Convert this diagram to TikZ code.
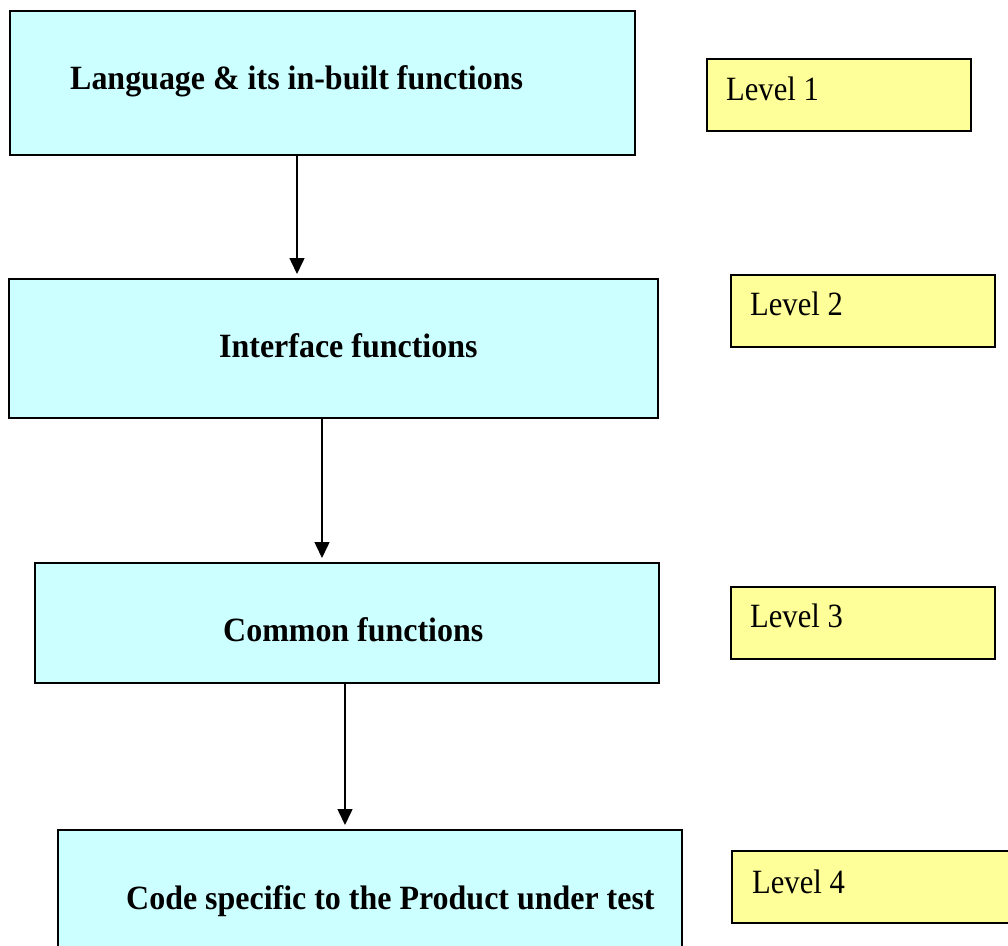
\documentclass[tikz,border=0pt]{standalone}
\usepackage{fontspec}
\setmainfont{Liberation Serif}[FakeStretch=0.9, BoldFeatures={FakeStretch=0.94}]
\usetikzlibrary{arrows.meta}
\definecolor{boxcyan}{HTML}{CCFFFF}
\definecolor{boxyellow}{HTML}{FFFF99}
\begin{document}
\begin{tikzpicture}[x=1pt,y=-1pt,
  cbox/.style={draw=black, line width=2pt, fill=boxcyan, anchor=north west, inner sep=0pt},
  ybox/.style={draw=black, line width=2pt, fill=boxyellow, anchor=north west, inner sep=0pt, minimum width=264pt, minimum height=72pt},
  btxt/.style={anchor=base west, inner sep=0pt, font=\fontsize{34}{40}\selectfont\bfseries},
  ltxt/.style={anchor=base west, inner sep=0pt, font=\fontsize{34}{40}\selectfont},
  arr/.style={line width=1.5pt, -{Triangle[length=16pt,width=15pt]}, shorten >=4pt}]
\clip (0,0) rectangle (1008,945);
\fill[white] (0,0) rectangle (1008,945);
% main boxes
\node[cbox, minimum width=625pt, minimum height=144pt] (b1) at (9,10) {};
\node[cbox, minimum width=649pt, minimum height=139pt] (b2) at (8,278) {};
\node[cbox, minimum width=624pt, minimum height=120pt] (b3) at (34,562) {};
\node[cbox, minimum width=624pt, minimum height=140pt] (b4) at (57,829) {};
% main texts
\node[btxt] (t1) at (70,89) {Language \& its in-built functions};
\node[btxt] (t2) at (219,357) {Interface functions};
\node[btxt] (t3) at (223,641) {Common functions};
\node[btxt] (t4) at (126,909) {Code specific to the Product under test};
% level boxes
\node[ybox] (l1) at (706,58) {};
\node[ybox] (l2) at (730,274) {};
\node[ybox] (l3) at (730,586) {};
\node[ybox, minimum width=300pt] (l4) at (731,850) {};
\node[ltxt] (lt1) at (726,100) {Level 1};
\node[ltxt] (lt2) at (750,315) {Level 2};
\node[ltxt] (lt3) at (750,627) {Level 3};
\node[ltxt] (lt4) at (752,893) {Level 4};
% arrows
\coordinate (x1) at (297,0);
\coordinate (x2) at (322,0);
\coordinate (x3) at (345,0);
\draw[arr] (b1.south -| x1) -- (b2.north -| x1);
\draw[arr] (b2.south -| x2) -- (b3.north -| x2);
\draw[arr] (b3.south -| x3) -- (b4.north -| x3);
\end{tikzpicture}
\end{document}
